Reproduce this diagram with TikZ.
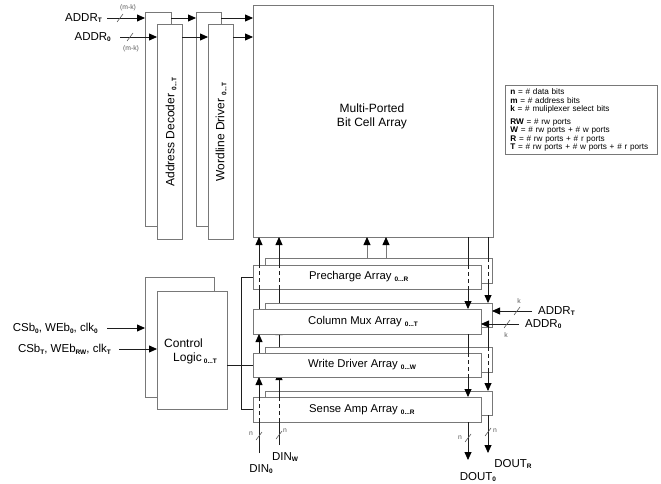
\documentclass[tikz,border=0pt]{standalone}
\usepackage{fontspec}
\setmainfont{Liberation Sans}
\usetikzlibrary{arrows.meta,calc}
\newcommand\sbs[1]{\raisebox{-0.3ex}{\fontsize{6.5}{7}\selectfont\bfseries #1}}
\definecolor{boxc}{RGB}{120,120,120}
\definecolor{wirec}{RGB}{30,30,30}
\definecolor{lightw}{RGB}{120,120,120}
\definecolor{smallc}{RGB}{90,90,90}
\begin{document}
\begin{tikzpicture}[x=1pt,y=-1pt,
  box/.style={draw=boxc, line width=0.9pt, fill=white, anchor=north west, inner sep=0pt, outer sep=0pt},
  wire/.style={draw=wirec, line width=0.8pt},
  arr/.style={wire, -{Triangle[length=8pt,width=7pt,color=black]}},
  dsh/.style={wire, dash pattern=on 4pt off 3pt},
  lbl/.style={font=\fontsize{11.3}{13}\selectfont, anchor=west, inner sep=0pt},
  big/.style={font=\fontsize{12}{14}\selectfont, inner sep=0pt},
  io/.style={font=\fontsize{11.5}{13}\selectfont, inner sep=0pt},
  tiny/.style={font=\fontsize{6.8}{7}\selectfont, text=smallc, inner sep=0pt},
  slash/.style={draw=smallc, line width=0.6pt}
]
\useasboundingbox (0,0) rectangle (661,484);
% ---------- back boxes ----------
\node[box, minimum width=26pt, minimum height=214pt] (decB) at (145,12) {};
\node[box, minimum width=25pt, minimum height=214pt] (drvB) at (196,12) {};
\node[box, minimum width=69pt, minimum height=120pt] (ctlB) at (145,277) {};
\node[box, minimum width=227pt, minimum height=25pt] (preB) at (265,258) {};
\node[box, minimum width=227pt, minimum height=24pt] (muxB) at (265,303) {};
\node[box, minimum width=227pt, minimum height=25pt] (wrB) at (265,347) {};
\node[box, minimum width=227pt, minimum height=24pt] (saB) at (265,391) {};
% column x positions
\coordinate (cA) at (259,0);
\coordinate (cB) at (279,0);
\coordinate (cC) at (468,0);
\coordinate (cD) at (488,0);
\coordinate (pA) at (367,0);
\coordinate (pB) at (386,0);
\coordinate (bus) at (241,0);
% ---------- arrows partly hidden behind front boxes ----------
\draw[arr] (cB|-wrB.north) -- (cB|-muxB.south);
\draw[arr] (cB|-saB.north) -- (cB|-wrB.south);
% ---------- front boxes ----------
\node[box, minimum width=25pt, minimum height=215pt] (decF) at (157,24) {};
\node[box, minimum width=25pt, minimum height=215pt] (drvF) at (208,24) {};
\node[box, minimum width=70pt, minimum height=118pt] (ctlF) at (157,291) {};
\node[box, minimum width=228pt, minimum height=24pt] (preF) at (253,265) {};
\node[box, minimum width=228pt, minimum height=25pt] (muxF) at (253,309) {};
\node[box, minimum width=228pt, minimum height=24pt] (wrF) at (253,353) {};
\node[box, minimum width=228pt, minimum height=25pt] (saF) at (253,397) {};
\node[box, minimum width=240pt, minimum height=232pt] (bca) at (253,5) {};
% ---------- labels ----------
\node[big, rotate=90] (decL) at (171,132) {Address Decoder \sbs{0...T}};
\node[big, rotate=90] (drvL) at (221,132) {Wordline Driver \sbs{0...T}};
\node[big, align=center] (bcaL) at (372,116) {Multi-Ported\\Bit Cell Array};
\node[lbl] (preL) at (309,277) {Precharge Array \sbs{0...R}};
\node[lbl] (muxL) at (308,322) {Column Mux Array \sbs{0...T}};
\node[lbl] (wrL) at (308,365) {Write Driver Array \sbs{0...W}};
\node[lbl] (saL) at (309,410) {Sense Amp Array \sbs{0...R}};
\node[big, align=left, anchor=north west, font=\fontsize{12}{13.5}\selectfont] (ctlL) at (164,339) {Control\\\hspace{9pt}Logic\,\sbs{0...T}};
% legend
\node[draw=boxc, line width=0.8pt, anchor=north west, align=left, text width=142pt, inner xsep=5pt, inner ysep=3.5pt,
      font=\fontsize{8.2}{8.4}\selectfont] (leg) at (505,85)
  {\textbf{n} = \# data bits\\ \textbf{m} = \# address bits\\ \textbf{k} = \# muliplexer select bits\\[4.4pt]
   \textbf{RW} = \# rw ports\\ \textbf{W} = \# rw ports + \# w ports\\ \textbf{R} = \# rw ports + \# r ports\\
   \textbf{T} = \# rw ports + \# w ports + \# r ports};
% ---------- address inputs ----------
\node[io, anchor=east] (addrT) at (102,18) {ADDR\sbs{T}};
\node[io, anchor=east] (addr0) at (111,37) {ADDR\sbs{0}};
\draw[arr] ([xshift=5pt]addrT.east) -- (addrT.east -| decB.west);
\draw[arr] ([xshift=9pt]addr0.east) -- (addr0.east -| decF.west);
\draw[slash] (117,22) -- (123,14);
\draw[slash] (127,41) -- (133,33);
\node[tiny] (mk1) at (128,8) {(m-k)};
\node[tiny] (mk2) at (131,49) {(m-k)};
\draw[arr] (decB.east |- addrT.east) -- (drvB.west |- addrT.east);
\draw[arr] (decF.east |- addr0.east) -- (drvF.west |- addr0.east);
\draw[arr] (drvB.east |- addrT.east) -- (bca.west |- addrT.east);
\draw[arr] (drvF.east |- addr0.east) -- (bca.west |- addr0.east);
% ---------- control inputs ----------
\node[io, anchor=east] (cs0) at (98,328) {CSb\sbs{0}, WEb\sbs{0}, clk\sbs{0}};
\node[io, anchor=east] (csT) at (111,349) {CSb\sbs{T}, WEb\sbs{RW}, clk\sbs{T}};
\draw[arr] ([xshift=9pt]cs0.east) -- (cs0.east -| ctlB.west);
\draw[arr] ([xshift=8pt]csT.east) -- (csT.east -| ctlF.west);
% control bus
\draw[wire] (preF.west) -- (preF.west -| bus) -- (saF.west -| bus) -- (saF.west);
\draw[wire] (ctlF.east |- wrF.west) -- (wrF.west);
% ---------- column mux -> bit cell array ----------
\draw[wire] (cA|-muxF.north) -- (cA|-preF.south);
\draw[dsh] (cA|-preF.south) -- (cA|-preF.north);
\draw[arr] (cA|-preF.north) -- (cA|-bca.south);
\draw[wire] (cB|-muxB.north) -- (cB|-preF.south);
\draw[dsh] (cB|-preF.south) -- (cB|-preF.north);
\draw[arr] (cB|-preF.north) -- (cB|-bca.south);
% precharge -> array
\draw[arr, draw=lightw] (pA|-preB.north) -- (pA|-bca.south);
\draw[arr, draw=lightw] (pB|-preB.north) -- (pB|-bca.south);
% write driver -> column mux
\draw[arr] (cA|-wrF.north) -- (cA|-muxF.south);
% data in
\coordinate (din0) at (259,453);
\coordinate (dinW) at (279,445);
\draw[wire] (din0) -- (cA|-saF.south);
\draw[dsh] (cA|-saF.south) -- (cA|-saF.north);
\draw[arr] (cA|-saF.north) -- (cA|-wrF.south);
\draw[wire] (dinW) -- (cB|-saF.south);
\draw[dsh] (cB|-saF.south) -- (cB|-saF.north);
\draw[wire] (cB|-saF.north) -- (cB|-saB.north);
\draw[slash] (256,440) -- (262,432);
\draw[slash] (276,439) -- (282,431);
\node[tiny] (nA) at (251,434) {n};
\node[tiny] (nB) at (285,431) {n};
\node[io] (din0L) at (261,469) {DIN\sbs{0}};
\node[io] (dinWL) at (285,457) {DIN\sbs{W}};
% ---------- bit cell array -> column mux -> sense amp ----------
\draw[wire] (cC|-bca.south) -- (cC|-preF.north);
\draw[dsh] (cC|-preF.north) -- (cC|-preF.south);
\draw[arr] (cC|-preF.south) -- (cC|-muxF.north);
\draw[wire] (cD|-bca.south) -- (cD|-preB.north);
\draw[dsh] (cD|-preB.north) -- (cD|-preB.south);
\draw[arr] (cD|-preB.south) -- (cD|-muxB.north);
\draw[wire] (cC|-muxF.south) -- (cC|-wrF.north);
\draw[dsh] (cC|-wrF.north) -- (cC|-wrF.south);
\draw[arr] (cC|-wrF.south) -- (cC|-saF.north);
\draw[wire] (cD|-muxB.south) -- (cD|-wrB.north);
\draw[dsh] (cD|-wrB.north) -- (cD|-wrB.south);
\draw[arr] (cD|-wrB.south) -- (cD|-saB.north);
% data out
\coordinate (dout0) at (468,460);
\coordinate (doutR) at (488,453);
\draw[arr] (cC|-saF.south) -- (dout0);
\draw[arr] (cD|-saB.south) -- (doutR);
\draw[slash] (465,442) -- (471,434);
\draw[slash] (485,436) -- (491,428);
\node[tiny] (nC) at (460,438) {n};
\node[tiny] (nD) at (495,431) {n};
\node[io] (doutRL) at (513,464) {DOUT\sbs{R}};
\node[io] (dout0L) at (478,477) {DOUT\sbs{0}};
% ---------- column mux select inputs ----------
\node[io, anchor=west] (addrTr) at (538,311) {ADDR\sbs{T}};
\node[io, anchor=west] (addr0r) at (525,324) {ADDR\sbs{0}};
\draw[arr] ([xshift=-6pt]addrTr.west) -- (addrTr.west -| muxB.east);
\draw[arr] ([xshift=-6pt]addr0r.west) -- (addr0r.west -| muxF.east);
\draw[slash] (514,315) -- (520,307);
\draw[slash] (504,328) -- (510,320);
\node[tiny] (k1) at (519,301) {k};
\node[tiny] (k2) at (506,335) {k};
\end{tikzpicture}
\end{document}
